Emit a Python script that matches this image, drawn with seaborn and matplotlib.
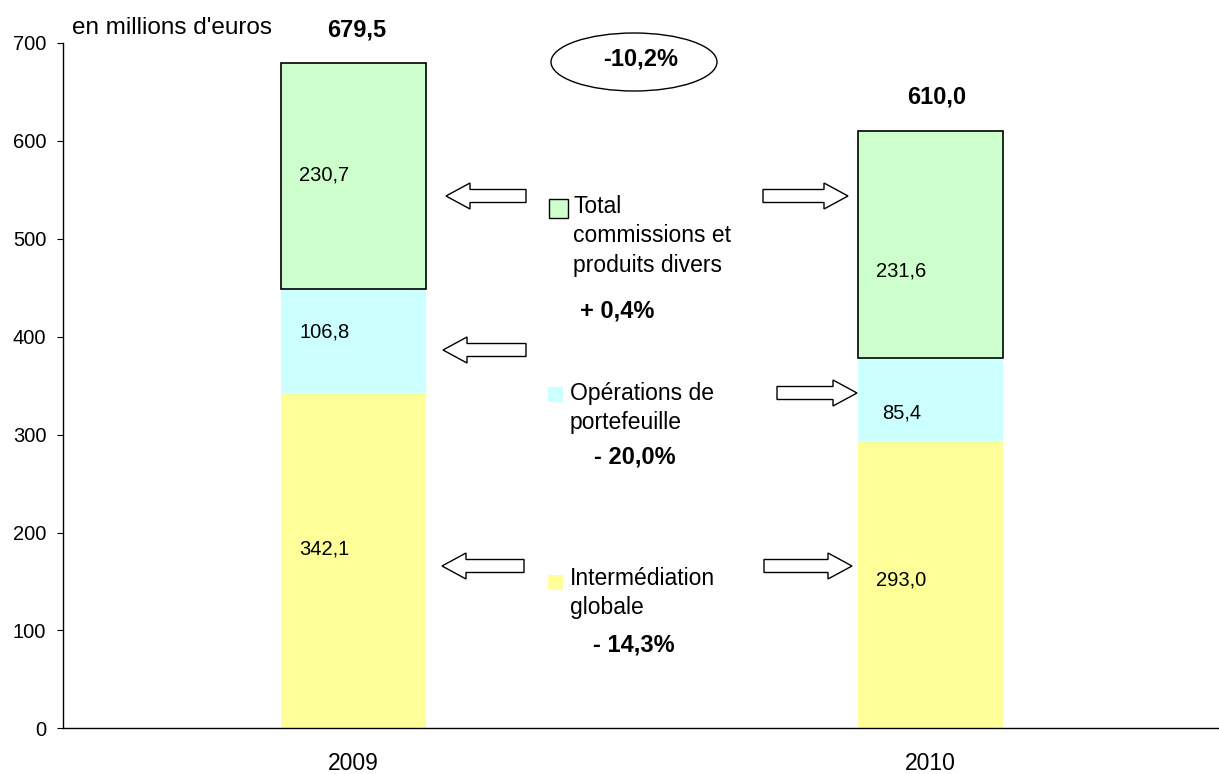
import matplotlib
matplotlib.use("Agg")
import matplotlib.pyplot as plt
import matplotlib.patches as mpatches
from matplotlib.transforms import IdentityTransform
import pandas as pd
import seaborn as sns

# data (en millions d'euros)
years = ["2009", "2010"]
intermediation = [342.1, 293.0]
portefeuille = [106.8, 85.4]
commissions = [230.7, 231.6]
totals = [679.5, 610.0]
series_names = ["Intermédiation\nglobale", "Opérations de\nportefeuille",
                "Total\ncommissions et\nproduits divers"]
series_var = ["- 14,3%", "- 20,0%", "+ 0,4%"]
total_var = "-10,2%"

colors = ["#FFFF99", "#CCFFFF", "#CCFFCC"]

sns.set_style("white")
plt.rcParams["font.family"] = ["Liberation Sans", "DejaVu Sans"]
plt.rcParams["text.color"] = "black"
plt.rcParams["xtick.color"] = "black"
plt.rcParams["ytick.color"] = "black"

W, H = 1219, 774
fig = plt.figure(figsize=(W / 100, H / 100), dpi=100)
ax = fig.add_axes([63 / W, (H - 728.3) / H, (W - 63) / W, 685.3 / H])

df = pd.DataFrame({"annee": years, "inter": intermediation,
                   "porte": portefeuille, "comm": commissions})
df["b_porte"] = df["inter"]
df["b_comm"] = df["inter"] + df["porte"]

bw = 0.251
sns.barplot(data=df, x="annee", y="inter", color=colors[0], saturation=1,
            width=bw, errorbar=None, linewidth=0, edgecolor="none", ax=ax)
sns.barplot(data=df, x="annee", y="porte", bottom=df["b_porte"], color=colors[1],
            saturation=1, width=bw, errorbar=None, linewidth=0, edgecolor="none", ax=ax)
sns.barplot(data=df, x="annee", y="comm", bottom=df["b_comm"], color=colors[2],
            saturation=1, width=bw, errorbar=None, linewidth=1.2, edgecolor="black", ax=ax)

# value labels inside the bars (placed as in the original, slightly left of centre)
label_y = [[183, 405, 565], [151, 322, 467]]
for i in range(len(years)):
    vals = [intermediation[i], portefeuille[i], commissions[i]]
    for v, y in zip(vals, label_y[i]):
        ax.text(i - 0.05, y, f"{v:.1f}".replace(".", ","), ha="center", va="center",
                fontsize=14.5)

# axes styling
ax.set_ylim(0, 700)
ax.set_xlim(-0.503, (W - 63) / 582 - 0.503)
ax.set_yticks(range(0, 701, 100))
ax.set_xticks([-0.5, 0.5, 1.5])
ax.set_xticklabels([])
ax.set_xticks([0, 1], minor=True)
ax.set_xticklabels(years, minor=True)
ax.tick_params(axis="x", which="major", direction="out", length=4.5, width=0.8)
ax.tick_params(axis="x", which="minor", length=0, pad=17, labelsize=16.5)
ax.tick_params(axis="y", direction="out", length=4.5, width=0.8,
               pad=7.5, labelsize=14.5, left=True)
ax.set_xlabel("")
ax.set_ylabel("")
for s in ["top", "right"]:
    ax.spines[s].set_visible(False)
for s in ["left", "bottom"]:
    ax.spines[s].set_color("black")
    ax.spines[s].set_linewidth(1.0)


def fpos(x, y):
    return x / W, 1 - y / H


def block_arrow(x0, x1, yc):
    arr = mpatches.FancyArrow(x0, H - yc, x1 - x0, 0, width=13, head_width=26,
                              head_length=24, length_includes_head=True,
                              fc="white", ec="black", lw=1.0,
                              transform=IdentityTransform())
    fig.add_artist(arr)


# arrows pointing from the legend entries to the bar segments
block_arrow(526, 446, 196)
block_arrow(763, 848, 196)
block_arrow(526, 443, 350)
block_arrow(777, 857, 393)
block_arrow(524, 442, 566)
block_arrow(764, 852, 566)

# legend entries with their variation
legend_pos = [(570, 567, 548, 575, 15, 634, 645),
              (570, 382, 548, 387, 15, 635, 457),
              (573, 195, 549, 199, 19, 617, 311)]
for k, (tx, ty, sx, sy, ss, vx, vy) in enumerate(legend_pos):
    ec = "black" if k == 2 else "none"
    fig.add_artist(mpatches.Rectangle((sx, H - sy - ss), ss, ss, fc=colors[k], ec=ec,
                                      lw=1.0, transform=IdentityTransform()))
    fig.text(*fpos(tx, ty), series_names[k], ha="left", va="top", fontsize=16.5,
             linespacing=1.36)
    fig.text(*fpos(vx, vy), series_var[k], ha="center", va="center", fontsize=17,
             fontweight="bold")

# totals and overall variation
fig.text(*fpos(72, 28), "en millions d'euros", ha="left", va="center", fontsize=17.5)
fig.text(*fpos(357, 30), f"{totals[0]:.1f}".replace(".", ","), ha="center", va="center",
         fontsize=17, fontweight="bold")
fig.text(*fpos(937, 97), f"{totals[1]:.1f}".replace(".", ","), ha="center", va="center",
         fontsize=17, fontweight="bold")
fig.add_artist(mpatches.Ellipse((634, H - 62), 166, 58, fc="white", ec="black", lw=1.0,
                                transform=IdentityTransform()))
fig.text(*fpos(641, 59), total_var, ha="center", va="center", fontsize=17,
         fontweight="bold")

fig.savefig("out.png", dpi=100)
